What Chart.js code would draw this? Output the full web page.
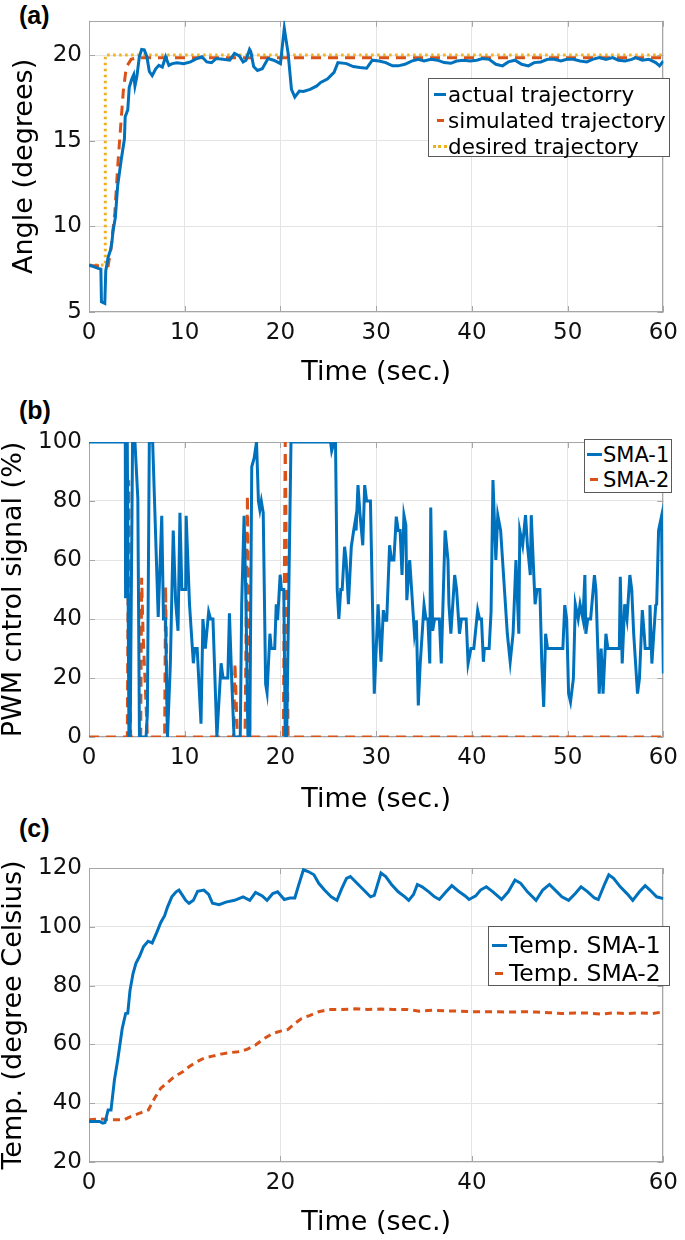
<!DOCTYPE html>
<html>
<head>
<meta charset="utf-8">
<title>SMA actuator response</title>
<script src="https://cdn.jsdelivr.net/npm/chart.js@4.4.0/dist/chart.umd.min.js"></script>
<style>
    body { margin: 0; background: #fff; width: 685px; height: 1240px; position: relative; overflow: hidden; font-family: 'DejaVu Sans', sans-serif; }
    canvas { position: absolute; left: 0; }
    .tag { position: absolute; left: 19px; font: bold 25px 'Liberation Sans', Arial, sans-serif; line-height: 1; }
    .legend { position: absolute; background: #fff; border: 1px solid #5a5a5a; box-sizing: border-box; color: #000; }
    .legend .row { display: flex; align-items: center; white-space: nowrap; }
    .legend .key { display: inline-block; height: 0; border-top: 3px solid; flex: none; }
</style>
</head>
<body>

<div class="tag" style="top:3px">(a)</div>
<div class="tag" style="top:398px">(b)</div>
<div class="tag" style="top:816px">(c)</div>

<canvas id="chart-a" width="685" height="400" style="top:0"></canvas>
<canvas id="chart-b" width="685" height="420" style="top:400px"></canvas>
<canvas id="chart-c" width="685" height="420" style="top:820px"></canvas>

<!-- legends, MATLAB style boxes inside the axes -->
<div class="legend" style="left:428px; top:78px; width:242px; height:79px; padding-top:2px; font-size:21.5px;">
    <div class="row" style="height:26px"><span class="key" style="width:12px; margin:0 2px 0 5px; border-color:#0072BD"></span>actual trajectorry</div>
    <div class="row" style="height:26px"><span class="key" style="width:7px; margin:0 4px 0 8px; border-color:#D95319"></span>simulated trajectory</div>
    <div class="row" style="height:26px"><span class="key" style="width:14px; margin:0 1px 0 4px; border-top-style:dotted; border-color:#EDB120"></span>desired trajectory</div>
</div>
<div class="legend" style="left:584px; top:439px; width:88px; height:54px; padding-top:2px; font-size:21px;">
    <div class="row" style="height:25px"><span class="key" style="width:15px; margin:0 1px 0 2px; border-color:#0072BD"></span>SMA-1</div>
    <div class="row" style="height:25px"><span class="key" style="width:8px; margin:0 5px 0 5px; border-color:#D95319"></span>SMA-2</div>
</div>
<div class="legend" style="left:488px; top:926px; width:182px; height:60px; padding-top:4px; font-size:23.5px;">
    <div class="row" style="height:28px"><span class="key" style="width:15px; margin:0 2px 0 3px; border-color:#0072BD"></span>Temp. SMA-1</div>
    <div class="row" style="height:28px"><span class="key" style="width:8px; margin:0 6px 0 6px; border-color:#D95319"></span>Temp. SMA-2</div>
</div>

<script>
// ---- (a) angle tracking ----
const timeActualA = [0, 0.96, 1.24, 1.3, 1.65, 1.75, 2.0, 2.27, 2.4, 2.5, 2.75, 3.0, 3.37, 3.7, 3.78, 4.05, 4.2, 4.47, 4.67, 4.8,
    5.0, 5.26, 5.5, 5.77, 6.05, 6.3, 6.6, 6.97, 7.3, 7.66, 8.0, 8.35, 8.7, 9.2, 9.9, 10.6, 11.3, 11.8, 12.3, 12.8,
    13.3, 14.0, 14.7, 15.2, 15.7, 16.1, 16.4, 16.77, 16.9, 17.2, 17.6, 18.1, 18.7, 19.3, 20.0, 20.4, 20.8, 21.15, 21.5, 21.97,
    22.4, 23.1, 23.8, 24.2, 24.9, 25.6, 26.0, 26.9, 27.6, 28.3, 29.0, 29.6, 30.3, 31.0, 31.7, 32.3, 33.0, 33.7, 34.4, 35.0,
    35.7, 36.4, 37.1, 37.8, 38.4, 39.1, 39.8, 40.5, 41.1, 41.8, 42.5, 43.2, 43.8, 44.5, 45.2, 45.9, 46.5, 47.2, 47.9, 48.6,
    49.3, 49.9, 50.6, 51.3, 52.0, 52.6, 53.3, 54.0, 54.7, 55.3, 56.0, 56.7, 57.1, 57.8, 58.5, 59.2, 59.6, 60];
const angleActual = [7.75, 7.55, 7.5, 5.6, 5.5, 7.4, 8.2, 8.65, 9.1, 9.7, 10.5, 12.4, 13.9, 15.1, 16.4, 16.8, 18.1, 18.6, 18.85, 18.2,
    18.75, 19.9, 20.33, 20.3, 19.9, 19.04, 18.8, 19.2, 19.4, 19.3, 19.9, 19.4, 19.5, 19.55, 19.5, 19.6, 19.8, 19.9, 19.6, 19.55,
    19.8, 19.75, 19.7, 20.1, 19.95, 19.6, 19.7, 20.33, 20.2, 19.33, 19.1, 19.2, 19.8, 19.7, 19.5, 21.57, 20.1, 18.0, 17.55, 17.9,
    17.87, 18.0, 18.2, 18.4, 18.6, 18.99, 19.56, 19.5, 19.33, 19.27, 19.23, 19.7, 19.65, 19.56, 19.37, 19.37, 19.46, 19.65, 19.75, 19.65,
    19.75, 19.7, 19.56, 19.52, 19.65, 19.7, 19.65, 19.7, 19.8, 19.75, 19.46, 19.37, 19.6, 19.7, 19.46, 19.37, 19.56, 19.6, 19.75, 19.75,
    19.65, 19.75, 19.75, 19.65, 19.6, 19.75, 19.85, 19.75, 19.85, 19.7, 19.65, 19.75, 19.85, 19.7, 19.75, 19.56, 19.37, 19.65];
const timeSimA = [0, 2.0, 2.3, 2.7, 3.0, 3.3, 3.6, 3.9, 4.4, 5.0, 60];
const angleSim = [7.7, 7.7, 8.7, 10.8, 13.5, 15.8, 18.0, 19.3, 19.75, 19.85, 19.85];
const timeDesiredA = [0, 1.7, 1.7, 60];
const angleDesired = [7.75, 7.75, 20, 20];
const xTicksA = [0, 10, 20, 30, 40, 50, 60];
const yTicksA = [5, 10, 15, 20];

// ---- (b) PWM control signal ----
const timePwm1 = [0, 3.79, 3.82, 4.0, 4.17, 4.3, 4.55, 4.8, 5.1, 5.27, 5.96, 6.1, 6.3, 6.65, 7.23, 7.6, 7.78, 8.0, 8.2, 8.5,
    8.8, 9.05, 9.3, 9.5, 9.7, 10.1, 10.15, 10.5, 10.9, 11.05, 11.3, 11.7, 11.9, 12.15, 12.5, 12.7, 12.95, 13.36, 13.8, 14.0,
    14.5, 14.67, 14.9, 15.15, 15.8, 15.95, 16.2, 16.4, 16.6, 16.8, 17.0, 17.25, 17.5, 17.7, 17.85, 18.0, 18.2, 18.45, 18.6, 18.9,
    19.04, 19.4, 19.56, 19.7, 19.97, 20.1, 20.35, 20.5, 20.65, 21.1, 25.24, 25.35, 25.6, 25.75, 25.93, 26.1, 26.3, 26.45, 26.7, 26.86,
    27.1, 27.4, 27.65, 27.8, 27.9, 28.1, 28.3, 28.6, 28.8, 29.0, 29.4, 29.8, 30.2, 30.5, 30.75, 30.9, 31.1, 31.4, 31.6, 31.85,
    32.1, 32.3, 32.5, 32.7, 32.9, 33.1, 33.2, 33.5, 33.8, 34.0, 34.2, 34.4, 34.6, 35.0, 35.2, 35.4, 35.6, 35.7, 35.9, 36.1,
    36.6, 36.8, 37.2, 37.5, 37.6, 37.8, 38.2, 38.4, 38.7, 38.9, 39.4, 39.6, 39.9, 40.2, 40.6, 40.8, 41.0, 41.2, 41.3, 41.8,
    42.0, 42.2, 42.5, 42.7, 43.0, 43.4, 43.7, 44.0, 44.3, 44.6, 44.9, 45.0, 45.3, 45.6, 45.8, 46.1, 46.2, 46.4, 46.6, 46.8,
    47.1, 47.3, 47.5, 47.7, 47.9, 49.5, 49.7, 49.9, 50.1, 50.3, 50.6, 50.8, 51.1, 51.3, 51.6, 51.8, 51.9, 52.1, 52.4, 52.8,
    52.96, 53.1, 53.3, 53.5, 53.7, 54.0, 54.2, 55.4, 55.5, 55.7, 55.96, 56.2, 56.5, 56.7, 56.9, 57.3, 57.5, 57.8, 58.0, 58.1,
    58.5, 58.6, 58.8, 59.0, 59.2, 59.3, 59.5, 59.8, 60.0];
const pwm1 = [100, 100, 47, 100, 0, 0, 100, 100, 81, 0, 0, 8, 100, 100, 40.7, 75, 40, 40, 0, 25,
    70, 46, 36, 76, 50, 50, 75, 45, 25, 30, 30, 4.5, 40, 30, 42.4, 40, 40, 0, 25, 20,
    20, 41.9, 20, 0, 0, 45, 75, 45, 0, 0, 91.6, 94.5, 100, 80, 77, 80, 76, 18, 15, 35,
    30, 30, 45, 39.6, 55, 50, 50, 0, 0, 100, 100, 97, 100, 100, 50, 40, 50, 50, 64.5, 60,
    45, 64.5, 70, 73, 70, 85.4, 76, 65, 85.4, 80, 80, 14.7, 45, 25.5, 43, 39.6, 39.6, 65, 60, 60,
    74.7, 70, 70, 54.9, 75.2, 71.8, 46.4, 60, 45, 35, 39.6, 10.7, 24.9, 44.7, 40, 40, 24.9, 77.8, 36, 40,
    40, 24.9, 70, 60, 45, 35, 54.9, 50, 35, 40, 40, 24.9, 30, 30, 43, 40, 40, 25.5, 30, 30,
    42.4, 87.1, 60, 75.2, 70, 50, 35, 25.5, 35, 60, 35, 70, 65, 75.2, 65, 54.9, 75.2, 60, 45, 50,
    50, 24.9, 10.2, 35, 30, 30, 44.7, 40, 14.7, 11.9, 19.8, 45, 40, 45, 40, 54.9, 35, 40, 40, 54.9,
    49.8, 35, 14.7, 30, 14.7, 35, 30, 30, 54.3, 24.9, 45, 40, 54.9, 49.8, 35, 14.7, 19.8, 43, 35, 30,
    30, 44.7, 24.9, 35, 44.7, 45, 70, 74.7, 21.5];
const timePwm2 = [0, 4.0, 4.15, 4.35, 5.4, 5.5, 5.65, 6.1, 7.9, 8.0, 8.2, 15.1, 15.25, 15.5, 16.3, 16.55, 16.8, 20.3, 20.5, 20.8, 60];
const pwm2 = [0, 0, 87, 0, 0, 54, 35, 0, 0, 51, 0, 0, 25, 0, 0, 82, 0, 0, 100, 0, 0];
const xTicksB = [0, 10, 20, 30, 40, 50, 60];
const yTicksB = [0, 20, 40, 60, 80, 100];

// ---- (c) wire temperatures ----
const timeTemp1 = [0, 1.1, 1.44, 1.67, 2.0, 2.3, 2.66, 3.0, 3.47, 3.83, 4.05, 4.28, 4.6, 4.9, 5.27, 5.7, 6.17, 6.6, 7.07, 7.5,
    7.9, 8.2, 8.65, 9.1, 9.4, 9.77, 10.1, 10.45, 10.9, 11.35, 12.0, 12.5, 12.9, 13.6, 14.3, 15.2, 16.1, 16.8, 17.4, 18.1,
    18.6, 19.2, 19.7, 20.4, 21.0, 21.5, 21.9, 22.4, 22.9, 23.5, 24.0, 24.6, 25.3, 25.9, 26.4, 26.9, 27.3, 28.0, 28.7, 29.4,
    29.8, 30.5, 31.0, 31.6, 32.3, 33.0, 33.4, 33.9, 34.3, 34.8, 35.5, 36.1, 36.6, 37.3, 37.9, 38.6, 39.3, 39.7, 40.4, 40.9,
    41.5, 42.2, 43.1, 43.8, 44.5, 45.1, 45.8, 46.7, 47.4, 48.1, 48.7, 49.4, 50.1, 50.8, 51.4, 52.1, 52.8, 53.2, 53.9, 54.3,
    54.8, 55.5, 56.2, 56.8, 57.5, 58.1, 58.6, 59.3, 60];
const temp1 = [33.8, 33.8, 33.2, 33.4, 37.7, 37.7, 48, 54.7, 65.4, 70.5, 70.6, 78.3, 84.1, 87.6, 89.9, 93.3, 95.1, 94.5, 98, 101.5,
    103.8, 106.7, 110.2, 111.9, 112.5, 110.7, 109, 108, 109, 112.1, 112.5, 111, 108, 107.5, 108.4, 109, 110.2, 109, 111.7, 110.5,
    109, 111.3, 111.9, 109.3, 109.8, 109.8, 114.2, 119.4, 118.8, 117.7, 114.8, 112.5, 110.2, 109, 113, 116.5, 117.1, 114.8, 112.5, 110.2,
    110.7, 118.3, 117.1, 114.4, 111.9, 110.2, 109, 111, 114.4, 113.6, 111.9, 110.2, 109.3, 111.9, 114, 112.1, 110.5, 109.3, 110.5, 112.5,
    113.6, 111.9, 109.3, 111.9, 115.9, 114.8, 111.9, 109, 112.5, 114.4, 112.5, 110.2, 109, 111.3, 113.6, 111.9, 109.8, 109.3, 114.8, 117.7,
    116.5, 113.6, 111.3, 109, 111.9, 114, 112.5, 110.2, 109.6];
const timeTemp2 = [0, 1.2, 2.6, 3.7, 4.4, 5.3, 6.2, 6.85, 7.5, 8.2, 8.9, 9.8, 10.45, 11.1, 12.0, 12.9, 13.8, 14.7, 15.6, 16.5,
    17.4, 18.3, 19.2, 20.1, 20.8, 21.5, 22.2, 23.1, 24.0, 25.1, 26.4, 27.8, 29.1, 30.5, 31.8, 33.2, 34.5, 35.9, 37.3, 38.6,
    40.0, 41.3, 42.7, 44.0, 45.4, 46.7, 48.1, 49.4, 50.8, 52.1, 53.5, 54.8, 56.2, 57.5, 58.9, 60];
const temp2 = [34.4, 34.6, 34.4, 34.4, 35.5, 36.6, 37.7, 41.7, 45.1, 47, 49, 50.7, 52.4, 53.8, 55.3, 56, 56.7, 57.2, 57.5, 58.3,
    59.8, 62, 63.7, 64.6, 65.1, 67.1, 68.8, 69.9, 71.1, 71.9, 71.9, 72.1, 71.9, 72, 71.9, 71.9, 71.3, 71.6, 71.4, 71.3,
    71.1, 71.1, 71.1, 71, 71.1, 71, 70.8, 70.5, 70.7, 70.7, 70.3, 70.7, 70.5, 70.7, 70.5, 71.1];
const xTicksC = [0, 20, 40, 60];
const yTicksC = [20, 40, 60, 80, 100, 120];

const BLUE = '#0072BD';
const ORANGE = '#D95319';
const YELLOW = '#EDB120';
const AXIS_GRAY = '#a6a6a6';

Chart.defaults.font.family = "'DejaVu Sans', sans-serif";
Chart.defaults.color = '#000';

// zip time/value arrays into {x, y} points
function toPoints(times, values) {
    return times.map((t, i) => ({ x: t, y: values[i] }));
}

// MATLAB-like box with inward tick marks (drawn under the lines)
const boxPlugin = {
    id: 'matlabBox',
    beforeDatasetsDraw(chart) {
        const { ctx, chartArea: a, scales: { x, y } } = chart;
        ctx.save();
        ctx.strokeStyle = AXIS_GRAY;
        ctx.lineWidth = 1;
        ctx.setLineDash([]);
        ctx.beginPath();
        x.ticks.forEach(t => {
            const px = Math.round(x.getPixelForValue(t.value)) + 0.5;
            ctx.moveTo(px, a.bottom); ctx.lineTo(px, a.bottom - 6);
            ctx.moveTo(px, a.top); ctx.lineTo(px, a.top + 6);
        });
        y.ticks.forEach(t => {
            const py = Math.round(y.getPixelForValue(t.value)) + 0.5;
            ctx.moveTo(a.left, py); ctx.lineTo(a.left + 6, py);
            ctx.moveTo(a.right, py); ctx.lineTo(a.right - 6, py);
        });
        ctx.stroke();
        ctx.strokeRect(Math.round(a.left) + 0.5, Math.round(a.top) + 0.5, Math.round(a.width) - 1, Math.round(a.height) - 1);
        ctx.restore();
    }
};

function lineSet(points, color, dash) {
    return {
        data: points,
        borderColor: color,
        borderWidth: 3,
        borderDash: dash || [],
        pointRadius: 0,
        tension: 0,
        fill: false
    };
}

// one panel = one chart; geometry chosen so the plot box lands where the figure has it
function makePanel(id, opts) {
    const titleFont = { size: 27, lineHeight: 1 };
    return new Chart(document.getElementById(id), {
        type: 'line',
        data: { datasets: opts.datasets },
        plugins: [boxPlugin],
        options: {
            responsive: false,
            animation: false,
            layout: { padding: { top: opts.padTop, right: 15, left: 0, bottom: 0 } },
            plugins: { legend: { display: false }, tooltip: { enabled: false } },
            scales: {
                x: {
                    type: 'linear',
                    min: 0, max: 60,
                    afterBuildTicks: s => { s.ticks = opts.xTicks.map(v => ({ value: v })); },
                    afterFit: s => { s.height = opts.xAxisHeight; },
                    grid: { color: '#e4e4e4', drawTicks: false },
                    border: { display: false },
                    ticks: { font: { size: 23 }, padding: 7, maxRotation: 0, color: '#111' },
                    title: { display: true, text: 'Time (sec.)', font: titleFont, padding: { top: 0, bottom: opts.xTitlePad } }
                },
                y: {
                    type: 'linear',
                    min: opts.yMin, max: opts.yMax,
                    afterBuildTicks: s => { s.ticks = opts.yTicks.map(v => ({ value: v })); },
                    afterFit: s => { s.width = 89; },
                    grid: { color: '#e4e4e4', drawTicks: false },
                    border: { display: false },
                    ticks: { font: { size: 23 }, padding: 7, color: '#111' },
                    title: { display: true, text: opts.yTitle, font: titleFont, padding: { top: opts.yTitlePad, bottom: 0 } }
                }
            }
        }
    });
}

document.addEventListener('DOMContentLoaded', function() {
    makePanel('chart-a', {
        datasets: [
            lineSet(toPoints(timeActualA, angleActual), BLUE),
            lineSet(toPoints(timeSimA, angleSim), ORANGE, [10, 7]),
            lineSet(toPoints(timeDesiredA, angleDesired), YELLOW, [2.5, 3.5])
        ],
        xTicks: xTicksA, yTicks: yTicksA, yMin: 5, yMax: 22,
        padTop: 17, xAxisHeight: 88, xTitlePad: 13.5,
        yTitle: 'Angle (degrees)', yTitlePad: 11.5
    });

    makePanel('chart-b', {
        datasets: [
            lineSet(toPoints(timePwm1, pwm1), BLUE),
            lineSet(toPoints(timePwm2, pwm2), ORANGE, [10, 7])
        ],
        xTicks: xTicksB, yTicks: yTicksB, yMin: 0, yMax: 100,
        padTop: 42, xAxisHeight: 83, xTitlePad: 6.5,
        yTitle: 'PWM cntrol signal (%)', yTitlePad: 0
    });

    makePanel('chart-c', {
        datasets: [
            lineSet(toPoints(timeTemp1, temp1), BLUE),
            lineSet(toPoints(timeTemp2, temp2), ORANGE, [7, 5])
        ],
        xTicks: xTicksC, yTicks: yTicksC, yMin: 20, yMax: 120,
        padTop: 48, xAxisHeight: 78, xTitlePad: 3.5,
        yTitle: 'Temp. (degree Celsius)', yTitlePad: 0.5
    });
});
</script>
</body>
</html>
